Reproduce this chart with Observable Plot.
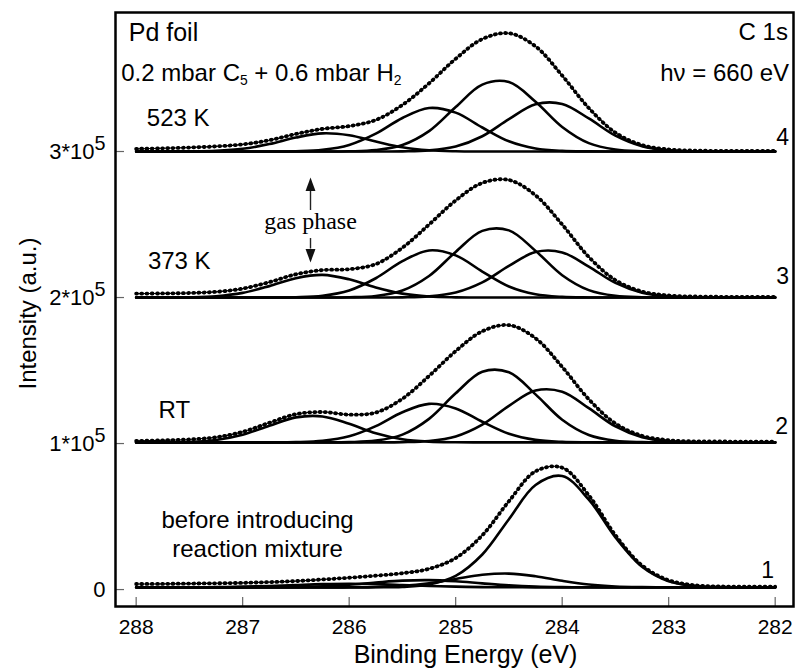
<!DOCTYPE html>
<html><head><meta charset="utf-8">
<script src="https://cdn.jsdelivr.net/npm/d3@7"></script>
<script src="https://cdn.jsdelivr.net/npm/@observablehq/plot@0.6"></script>
<style>
html,body{margin:0;padding:0;background:#fff;}
#chart{width:796px;height:671px;}
</style></head><body><div id="chart"></div>
<script>
// Binding energy grid (eV)
const energy = [288,287.75,287.5,287.25,287,286.75,286.5,286.25,286,285.75,285.5,285.25,285,284.75,284.5,284.25,284,283.75,283.5,283.25,283,282.75,282.5,282.25,282];

// Vertical offsets of the stacked spectra (counts)
const offsets = [1500, 100800, 200000, 300000];

// Spectrum 1: before introducing reaction mixture (values in 10^3 counts)
const s1Data = [2.3,2.4,2.6,2.8,3.1,3.6,4.3,5.4,6.6,8.0,9.7,12.7,20.1,35.7,59.0,79.5,82.0,63.0,35.7,15.0,4.9,1.4,0.6,0.5,0.5];
const s1Main = [0,0,0,0,0,0,0,0,0,0.05,0.36,1.99,7.86,22.52,46.70,70.15,76.28,60.08,34.26,14.14,4.23,0.91,0.14,0.02,0];
const s1A = [0,0,0,0,0,0,0,0,0.05,0.27,1.02,2.83,5.76,8.61,9.44,7.61,4.50,1.96,0.62,0.15,0.03,0,0,0,0];
const s1B = [0,0,0,0,0.02,0.07,0.28,0.82,1.88,3.34,4.62,4.98,4.18,2.73,1.39,0.55,0.17,0.04,0,0,0,0,0,0,0];
const s1C = [0,0.02,0.06,0.19,0.48,0.99,1.65,2.25,2.5,2.25,1.65,0.99,0.48,0.19,0.06,0.02,0,0,0,0,0,0,0,0,0];

// Spectrum 2: RT
const s2Data = [1.0,1.4,2.0,3.5,7.2,13.4,19.3,20.8,19.0,20.4,29.9,45.5,62.5,76.1,80.3,71.3,51.7,29.5,12.9,4.5,1.5,0.7,0.6,0.5,0.5];
const s2C1 = [0,0.05,0.36,1.65,5.21,11.37,17.11,17.77,12.72,6.27,2.13,0.50,0.08,0,0,0,0,0,0,0,0,0,0,0,0];
const s2C2 = [0,0,0,0,0,0.02,0.19,1.06,4.14,11.13,20.64,26.37,23.24,14.12,5.92,1.71,0.34,0.05,0,0,0,0,0,0,0];
const s2C3 = [0,0,0,0,0,0,0,0.02,0.19,1.21,5.32,16.10,33.61,48.38,48.02,32.87,15.51,5.05,1.13,0.18,0.02,0,0,0,0];
const s2C4 = [0,0,0,0,0,0,0,0,0,0.02,0.15,0.94,4.08,12.17,25.02,35.50,34.72,23.41,10.89,3.49,0.77,0.12,0.02,0,0];

// Spectrum 3: 373 K
const s3Data = [2.7,2.8,3.1,3.9,6.1,10.5,15.9,18.8,19.4,22.9,34.1,50.0,66.5,78.5,80.5,70.0,50.0,27.8,11.9,4.1,1.4,0.7,0.5,0.5,0.5];
const s3C1 = [0,0.02,0.17,0.89,3.18,7.81,13.24,15.48,12.48,6.93,2.66,0.70,0.13,0.02,0,0,0,0,0,0,0,0,0,0,0];
const s3C2 = [0,0,0,0,0,0.03,0.21,1.22,4.84,13.21,24.87,32.26,28.85,17.80,7.57,2.22,0.45,0.06,0,0,0,0,0,0,0];
const s3C3 = [0,0,0,0,0,0,0,0.02,0.17,1.08,4.80,14.74,31.24,45.65,45.98,31.95,15.30,5.05,1.15,0.18,0.02,0,0,0,0];
const s3C4 = [0,0,0,0,0,0,0,0,0,0.01,0.12,0.78,3.42,10.36,21.63,31.14,30.91,21.15,9.98,3.25,0.73,0.11,0.01,0,0];

// Spectrum 4: 523 K
const s4Data = [1.8,2.2,2.7,3.5,4.9,7.7,12.0,15.5,17.4,21.6,31.9,46.7,63.5,77.0,81.0,72.0,52.0,29.8,12.9,4.4,1.4,0.6,0.5,0.5,0.5];
const s4C1 = [0,0.01,0.08,0.47,1.86,5.08,9.56,12.41,11.10,6.85,2.91,0.85,0.17,0.02,0,0,0,0,0,0,0,0,0,0,0];
const s4C2 = [0,0,0,0,0,0.02,0.20,1.13,4.47,12.20,22.95,29.78,26.63,16.43,6.98,2.05,0.41,0.06,0,0,0,0,0,0,0];
const s4C3 = [0,0,0,0,0,0,0,0.01,0.14,0.96,4.41,13.95,30.43,45.83,47.57,34.06,16.81,5.71,1.34,0.22,0.02,0,0,0,0];
const s4C4 = [0,0,0,0,0,0,0,0,0,0.01,0.12,0.76,3.40,10.44,22.13,32.33,32.57,22.63,10.84,3.58,0.82,0.13,0.01,0,0];

// Axis ticks and labels
const xTicks = [288,287,286,285,284,283,282];
const yTicks = [0,100000,200000,300000];
const yTickLabels = ["0","1*10^{5}","2*10^{5}","3*10^{5}"];
const spectrumLabels = ["1","2","3","4"];

// ---- build tables ----
const spectra = [
  {data: s1Data, comps: [s1Main, s1A, s1B, s1C]},
  {data: s2Data, comps: [s2C1, s2C2, s2C3, s2C4]},
  {data: s3Data, comps: [s3C1, s3C2, s3C3, s3C4]},
  {data: s4Data, comps: [s4C1, s4C2, s4C3, s4C4]}
];
const compRows = [], dataRows = [];
spectra.forEach((s, i) => {
  s.comps.forEach((c, j) => c.forEach((v, k) => compRows.push({E: energy[k], I: offsets[i] + v * 1000, key: i + "-" + j})));
  s.data.forEach((v, k) => dataRows.push({E: energy[k], I: offsets[i] + v * 1000, key: "d" + i}));
});

// annotation placements
const sansTexts = [
  {t: "Pd foil", E: 288.07, I: 381500, size: 25},
  {t: "0.2 mbar C_{5} + 0.6 mbar H_{2}", E: 288.14, I: 353400, size: 24},
  {t: "523 K", E: 287.90, I: 322900, size: 24},
  {t: "373 K", E: 287.89, I: 224700, size: 24},
  {t: "RT", E: 287.79, I: 122600, size: 24}
];
const rightTexts = [
  {t: "C 1s", E: 281.88, I: 381500, size: 24},
  {t: "h\u03bd = 660 eV", E: 281.87, I: 353400, size: 24}
];
const numberLabelPos = [
  {E: 282.01, I: 12700}, {E: 281.88, I: 111600}, {E: 281.87, I: 214000}, {E: 281.87, I: 309200}
];
const numberRows = spectrumLabels.map((t, i) => ({t, ...numberLabelPos[i]}));
const centerTexts = [
  {t: "before introducing", E: 286.86, I: 47300},
  {t: "reaction mixture", E: 286.86, I: 27400}
];
const arrows = [
  {E: 286.363, y1: 259600, y2: 272900, tip: 277300, dir: "up"},
  {E: 286.363, y1: 240400, y2: 233200, tip: 228900, dir: "down"}
];
const triUp = {draw(ctx, size){ const r = Math.sqrt(size/Math.PI); ctx.moveTo(0,-1.6*r); ctx.lineTo(1.1*r,1.4*r); ctx.lineTo(-1.1*r,1.4*r); ctx.closePath(); }};
const triDown = {draw(ctx, size){ const r = Math.sqrt(size/Math.PI); ctx.moveTo(0,1.6*r); ctx.lineTo(1.1*r,-1.4*r); ctx.lineTo(-1.1*r,-1.4*r); ctx.closePath(); }};

const sans = "'Liberation Sans', Arial, Helvetica, sans-serif";
const serif = "'Liberation Serif', 'Times New Roman', serif";

const chart = Plot.plot({
  width: 796, height: 671,
  marginLeft: 115, marginRight: 3, marginTop: 12, marginBottom: 65,
  x: {domain: [288.194, 281.828], label: null},
  y: {domain: [-11600, 395200], label: null},
  style: {fontFamily: sans, color: "#000", background: "#fff"},
  marks: [
    Plot.line(compRows, {x: "E", y: "I", z: "key", stroke: "#000", strokeWidth: 2.6, curve: "catmull-rom"}),
    Plot.line(dataRows, {x: "E", y: "I", z: "key", stroke: "#000", strokeWidth: 1.1, curve: "catmull-rom"}),
    Plot.line(dataRows, {x: "E", y: "I", z: "key", stroke: "#000", strokeWidth: 3.8, strokeLinecap: "round", strokeDasharray: "0.8,4.4", curve: "catmull-rom"}),
    Plot.tickX(xTicks, {x: d => d, insetTop: 585, stroke: "#666", strokeWidth: 1.2}),
    Plot.tickY(yTicks, {y: d => d, insetRight: 669, stroke: "#666", strokeWidth: 1.2}),
    Plot.axisX(xTicks, {tickSize: 0, tickPadding: 13, fontSize: 21, label: null}),
    Plot.axisY(yTicks, {tickSize: 0, tickPadding: 10, fontSize: 22, label: null, tickFormat: d => yTickLabels[yTicks.indexOf(d)]}),
    Plot.text(["Binding Energy (eV)"], {frameAnchor: "bottom", dy: 48, dx: 11, fontSize: 25, textAnchor: "middle", lineAnchor: "middle"}),
    Plot.text(["Intensity (a.u.)"], {frameAnchor: "left", rotate: -90, dx: -87, dy: 4, fontSize: 24, textAnchor: "middle", lineAnchor: "middle"}),
    Plot.text(sansTexts, {x: "E", y: "I", text: "t", fontSize: "size", textAnchor: "start", lineAnchor: "middle"}),
    Plot.text(rightTexts, {x: "E", y: "I", text: "t", fontSize: "size", textAnchor: "end", lineAnchor: "middle"}),
    Plot.text(numberRows, {x: "E", y: "I", text: "t", fontSize: 23, textAnchor: "end", lineAnchor: "middle"}),
    Plot.text(centerTexts, {x: "E", y: "I", text: "t", fontSize: 24, textAnchor: "middle", lineAnchor: "middle"}),
    Plot.text(["gas phase"], {x: 286.363, y: 252100, fontSize: 24, fontFamily: serif, textAnchor: "middle", lineAnchor: "middle"}),
    Plot.ruleX(arrows, {x: "E", y1: "y1", y2: "y2", stroke: "#222", strokeWidth: 1.4}),
    Plot.dot(arrows.filter(a => a.dir === "up"), {x: "E", y: "tip", symbol: triUp, r: 4.5, fill: "#111", stroke: "none"}),
    Plot.dot(arrows.filter(a => a.dir === "down"), {x: "E", y: "tip", symbol: triDown, r: 4.5, fill: "#111", stroke: "none"}),
    Plot.frame({stroke: "#000", strokeWidth: 2.5})
  ]
});
document.getElementById("chart").appendChild(chart);

// rich text: _{sub} and ^{sup}
const NS = "http://www.w3.org/2000/svg";
for (const t of chart.querySelectorAll("text")) {
  if (t.querySelector("tspan")) continue;
  const s = t.textContent;
  if (!/[_^]\{/.test(s)) continue;
  const fs = parseFloat(getComputedStyle(t).fontSize) || 22;
  t.textContent = "";
  let shift = 0;
  const re = /([_^])\{([^}]*)\}|([^_^]+)/g;
  let m;
  while ((m = re.exec(s))) {
    const ts = document.createElementNS(NS, "tspan");
    let target = 0;
    if (m[3] !== undefined) { ts.textContent = m[3]; target = 0; }
    else if (m[1] === "_") { ts.textContent = m[2]; target = fs * 0.17; ts.setAttribute("font-size", (fs * 0.58).toFixed(1)); }
    else { ts.textContent = m[2]; target = -fs * 0.4; ts.setAttribute("font-size", (fs * 0.9).toFixed(1)); }
    if (target !== shift) { ts.setAttribute("dy", (target - shift).toFixed(1)); shift = target; }
    t.appendChild(ts);
  }
}
</script>
</body></html>
